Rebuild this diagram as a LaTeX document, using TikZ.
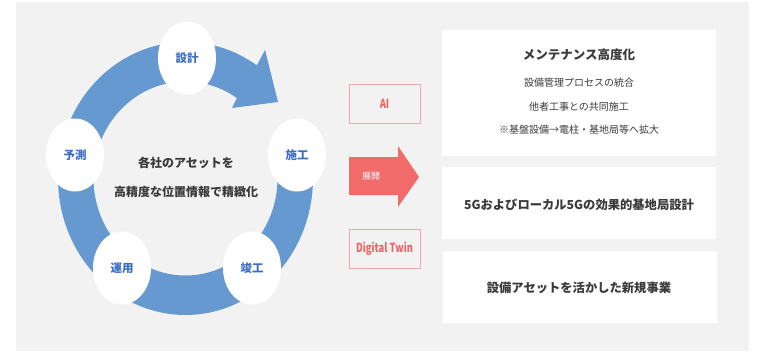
\documentclass[tikz,border=0pt]{standalone}
\usepackage{fontspec}
\setmainfont{Noto Sans CJK JP}
\newfontfamily\latc[FakeStretch=0.75]{Noto Sans CJK JP}
\usetikzlibrary{shapes.geometric}
\definecolor{bg}{HTML}{F2F2F2}
\definecolor{ringblue}{HTML}{6599D0}
\definecolor{lblblue}{HTML}{3A6FC2}
\definecolor{txt}{HTML}{3A3A3A}
\definecolor{redfill}{HTML}{F26B6B}
\definecolor{redline}{HTML}{F5A5A5}
\definecolor{redtxt}{HTML}{EC6464}
\begin{document}
\begin{tikzpicture}[x=1pt,y=-1pt,
  stage/.style={ellipse, fill=white, minimum width=58pt, minimum height=73pt, inner sep=0pt,
    text=lblblue, font=\fontsize{11.5}{13}\selectfont\bfseries},
  tagbox/.style={draw=redline, line width=0.8pt, fill=bg, minimum width=71pt, minimum height=39pt,
    inner sep=0pt, text=redtxt, font=\fontsize{12.5}{14}\selectfont\latc\bfseries},
  panel/.style={fill=white, minimum width=274pt, inner sep=0pt},
  ptitle/.style={text=txt, inner sep=0pt, font=\fontsize{12.3}{14}\selectfont\bfseries},
  pline/.style={text=txt, inner sep=0pt, font=\fontsize{10}{12}\selectfont}
]
\useasboundingbox (0,0) rectangle (760,351);
\fill[white] (0,0) rectangle (760,351);
\fill[bg] (16,2) rectangle (749,351);

% circular arrow
\fill[ringblue]
  plot[domain=-56:-370, samples=120, variable=\t] ({185.5+127.5*cos(\t)},{178.5+136.5*sin(\t)})
  -- plot[domain=-370:-56, samples=120, variable=\t] ({185.5+92*cos(\t)},{178.5+97*sin(\t)})
  -- (232,108) -- (278,102) -- (265,50) -- cycle;

% stages
\node[stage] (s1) at (187,58) {設計};
\node[stage] (s2) at (297,155) {施工};
\node[stage] (s3) at (252,268) {竣工};
\node[stage] (s4) at (122,268) {運用};
\node[stage] (s5) at (75,155) {予測};

\node[text=txt, align=center, inner sep=0pt, font=\fontsize{12}{29}\selectfont\bfseries] (center) at (186,177)
  {各社のアセットを\\高精度な位置情報で精緻化};

% middle column
\node[tagbox] (ai) at (384.5,103.5) {AI};
\node[tagbox] (dt) at (384.5,248.5) {Digital Twin};
\fill[redfill] (349,157) -- (398,157) -- (398,146) -- (419,177) -- (398,207) -- (398,195) -- (349,195) -- cycle;
\node[text=white, inner sep=0pt, font=\fontsize{9}{11}\selectfont] (tenkai) at (371,176) {展開};

% right panels
\node[panel, minimum height=126pt] (p1) at (579,93) {};
\node[ptitle, font=\fontsize{12.5}{14}\selectfont\bfseries] (p1t) at (579,55) {メンテナンス高度化};
\node[pline] (p1a) at (579,83) {設備管理プロセスの統合};
\node[pline] (p1b) at (579,107) {他者工事との共同施工};
\node[pline] (p1c) at (579,130) {※基盤設備→電柱・基地局等へ拡大};

\node[panel, minimum height=72pt] (p2) at (579,203) {};
\node[ptitle] (p2t) at (579,205) {5Gおよびローカル5Gの効果的基地局設計};

\node[panel, minimum height=72pt] (p3) at (580,287) {};
\node[ptitle] (p3t) at (579,288) {設備アセットを活かした新規事業};
\end{tikzpicture}
\end{document}
